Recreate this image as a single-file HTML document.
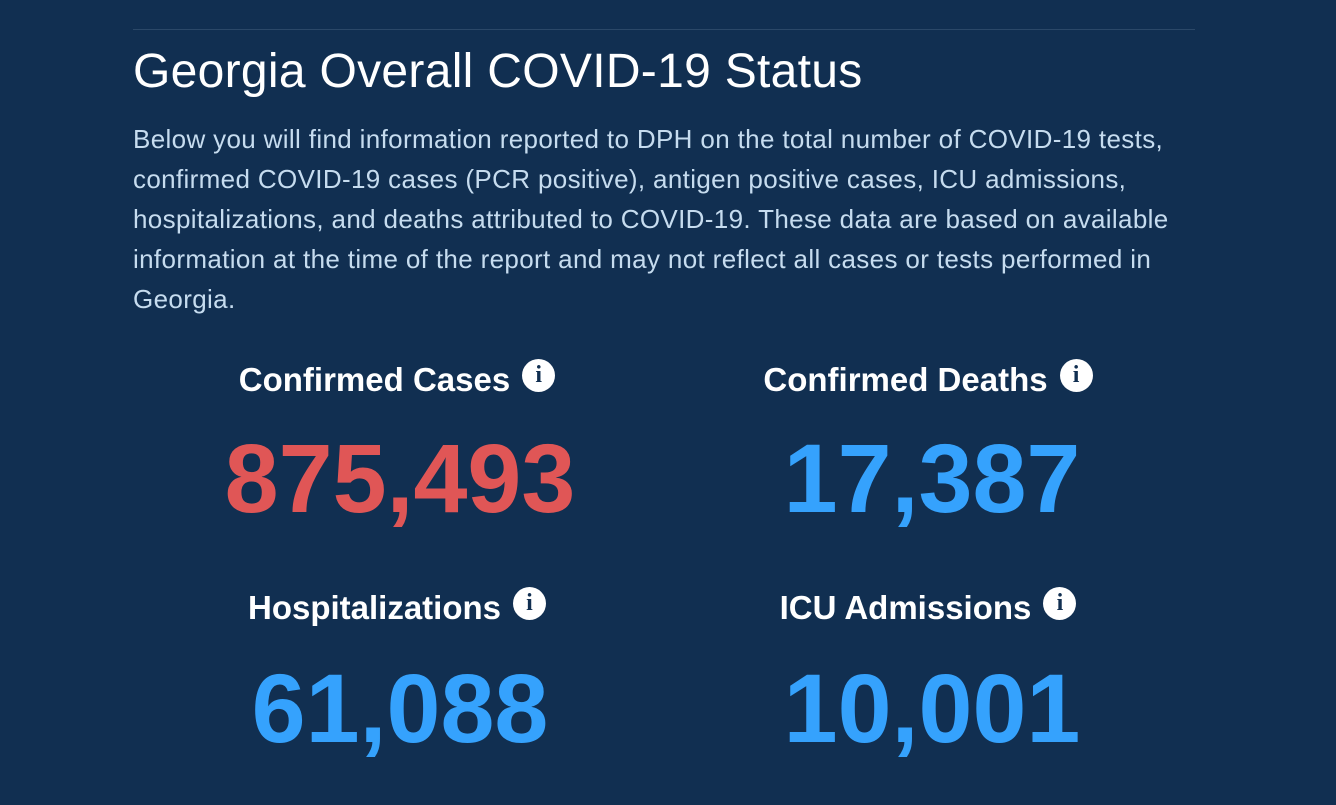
<!DOCTYPE html>
<html><head><style>
body{margin:0;width:1336px;height:805px;background:#112f51;overflow:hidden;font-family:"Liberation Sans",sans-serif;position:relative}
.line{position:absolute;left:133px;top:29px;width:1062px;height:1px;background:#2b4868}
h1{position:absolute;left:133px;top:44px;margin:0;font-weight:normal;font-size:48px;color:#fff;white-space:nowrap;letter-spacing:0.3px}
.p{position:absolute;left:133px;top:119px;font-size:26px;line-height:40px;color:#c6dcef;white-space:nowrap;letter-spacing:0.35px}
.h{position:absolute;width:600px;text-align:center;font-weight:bold;font-size:33px;color:#fff;white-space:nowrap}
.i{display:inline-block;width:33px;height:33px;border-radius:50%;background:#fff;color:#112f51;font-size:24px;line-height:33px;text-align:center;vertical-align:9px;margin-left:12px;font-family:"Liberation Serif",serif;font-weight:bold}
.n{position:absolute;width:600px;text-align:center;font-weight:bold;font-size:97px;white-space:nowrap;letter-spacing:0px}
.r{color:#e05656}.b{color:#35a2fd}
</style></head><body>
<div class="line"></div>
<h1>Georgia Overall COVID-19 Status</h1>
<div class="p">Below you will find information reported to DPH on the total number of COVID-19 tests,<br>confirmed COVID-19 cases (PCR positive), antigen positive cases, ICU admissions,<br>hospitalizations, and deaths attributed to COVID-19. These data are based on available<br>information at the time of the report and may not reflect all cases or tests performed in<br>Georgia.</div>
<div class="h" style="left:97px;top:359px">Confirmed Cases<span class="i">i</span></div>
<div class="h" style="left:628px;top:359px">Confirmed Deaths<span class="i">i</span></div>
<div class="n r" style="left:100px;top:423px">875,493</div>
<div class="n b" style="left:632px;top:423px">17,387</div>
<div class="h" style="left:97px;top:587px">Hospitalizations<span class="i">i</span></div>
<div class="h" style="left:628px;top:587px">ICU Admissions<span class="i">i</span></div>
<div class="n b" style="left:100px;top:653px">61,088</div>
<div class="n b" style="left:632px;top:653px">10,001</div>
</body></html>
